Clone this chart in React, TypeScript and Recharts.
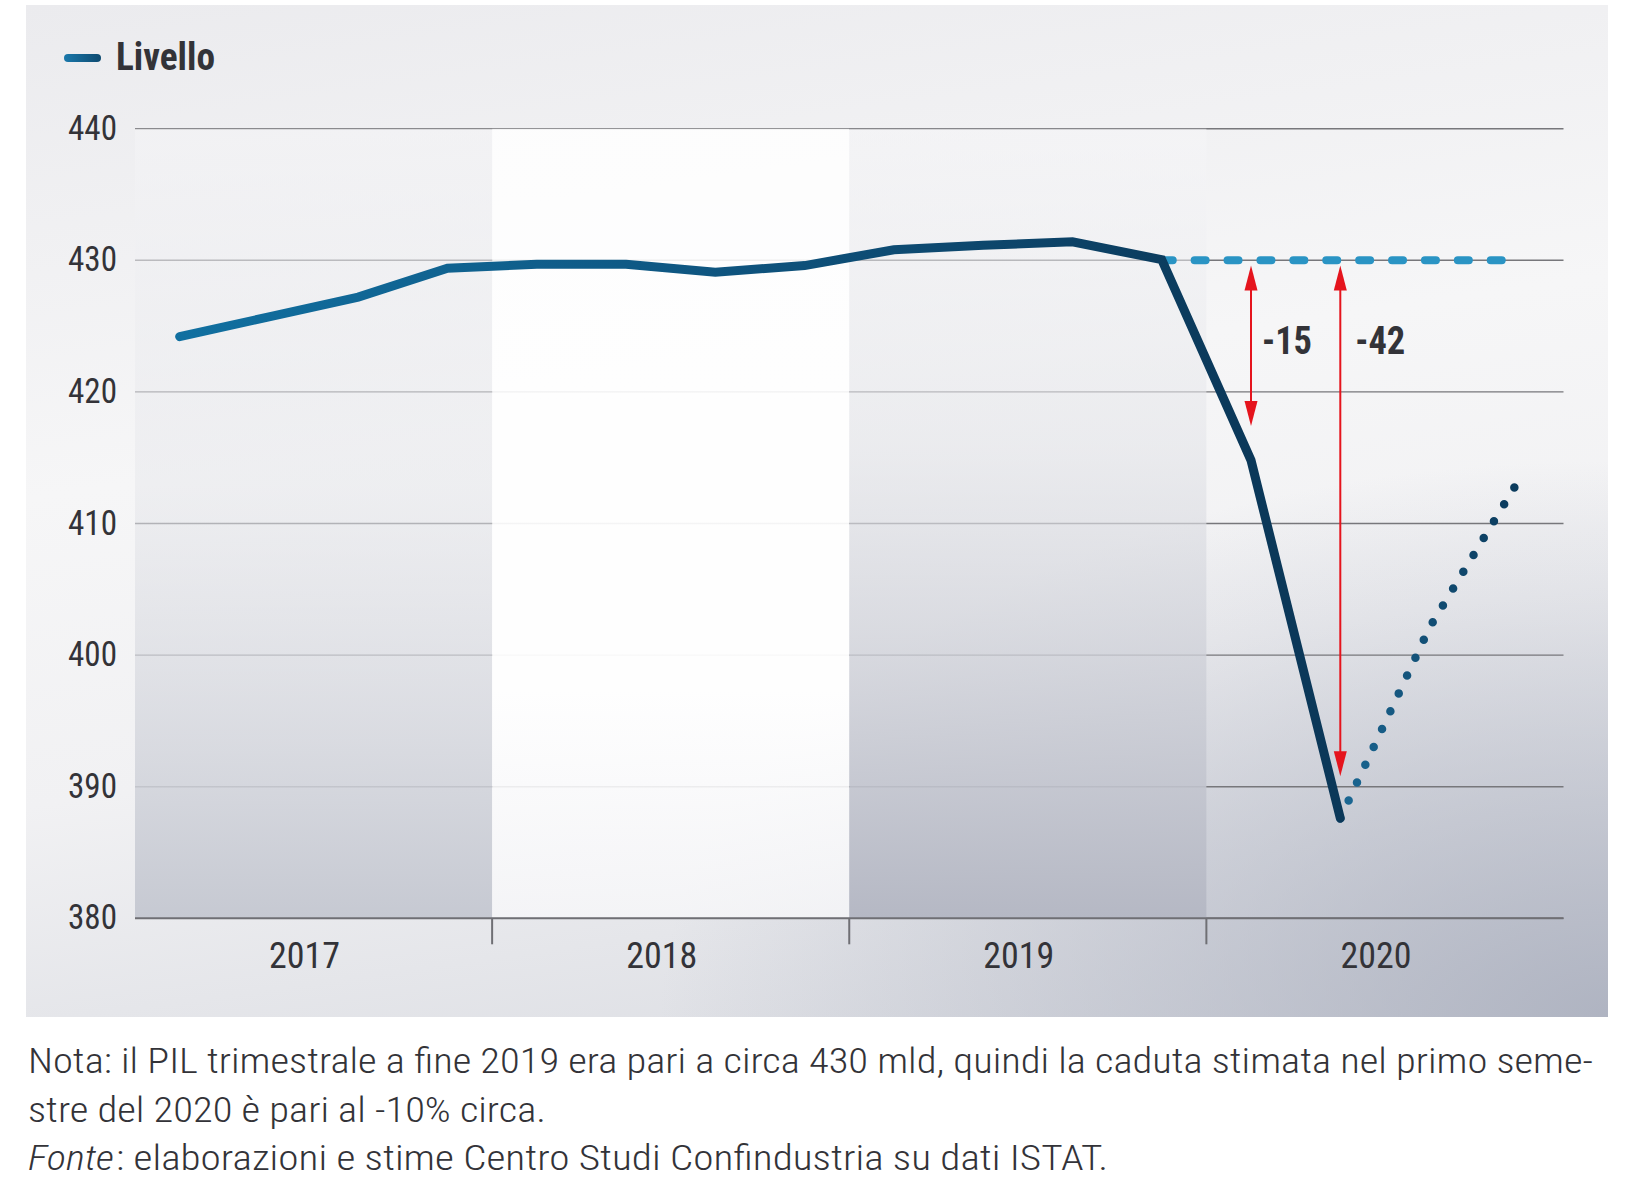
import React from "react";
import {
  LineChart,
  Line,
  XAxis,
  YAxis,
  CartesianGrid,
  ReferenceArea,
  ReferenceLine,
} from "recharts";

const quarters = [
  "I 2017", "II 2017", "III 2017", "IV 2017",
  "I 2018", "II 2018", "III 2018", "IV 2018",
  "I 2019", "II 2019", "III 2019", "IV 2019",
  "I 2020", "II 2020", "III 2020", "IV 2020",
];
const years = ["2017", "2018", "2019", "2020"];
const livello = [
  424.2, 425.7, 427.2, 429.4,
  429.7, 429.7, 429.1, 429.6,
  430.8, 431.15, 431.4, 430.05,
  414.8, 387.6, null, null,
];
const livelloFine2019 = [
  null, null, null, null, null, null, null, null, null, null, null,
  430, 430, 430, 430, 430,
];
const stima = [
  null, null, null, null, null, null, null, null, null, null, null, null, null,
  387.6, 402.1, 413.3,
];
const yTicks = [380, 390, 400, 410, 420, 430, 440];
// red arrows: quarter index, from / to values, label
const gapQuarter = [12, 13];
const gapFrom = [429.6, 429.6];
const gapTo = [417.4, 390.8];
const gapLabels = ["-15", "-42"];

const data = quarters.map((q, i) => ({
  x: i + 0.5,
  q,
  livello: livello[i],
  base: livelloFine2019[i],
  stima: stima[i],
}));

const COND = "'Roboto Condensed', 'Liberation Sans Narrow', 'DejaVu Sans Condensed', Roboto, sans-serif";
const RED = "#e5141d";
const TXT = "#333338";

const YTick = (p: any) => (
  <text
    x={p.x - 18}
    y={p.y + 11}
    textAnchor="end"
    fontFamily={COND}
    fontSize={35}
    fill={TXT}
    textLength={49}
    lengthAdjust="spacingAndGlyphs"
  >
    {p.payload.value}
  </text>
);

const XTick = (p: any) => {
  const v = p.payload.value;
  if (v % 4 === 0) {
    return <line x1={p.x} x2={p.x} y1={p.y} y2={p.y + 26} stroke="#6f6f74" strokeWidth={2} />;
  }
  return (
    <text
      x={p.x - 9}
      y={p.y + 50}
      textAnchor="middle"
      fontFamily={COND}
      fontWeight={400}
      fontSize={37}
      fill={TXT}
      textLength={71}
      lengthAdjust="spacingAndGlyphs"
    >
      {years[(v - 2) / 4]}
    </text>
  );
};

const makeArrow = (label: string, dx: number) => (p: any) => {
  const { x1, y1, y2 } = p;
  const top = Math.min(y1, y2);
  const bot = Math.max(y1, y2);
  const head = 25;
  const half = 6.5;
  return (
    <g>
      <line x1={x1} x2={x1} y1={top + head - 2} y2={bot - head + 2} stroke={RED} strokeWidth={2} />
      <polygon points={`${x1},${top} ${x1 - half},${top + head} ${x1 + half},${top + head}`} fill={RED} />
      <polygon points={`${x1},${bot} ${x1 - half},${bot - head} ${x1 + half},${bot - head}`} fill={RED} />
      <text
        x={x1 + dx}
        y={top + 88}
        fontFamily={COND}
        fontWeight={700}
        fontSize={38}
        fill={TXT}
        textLength={50}
        lengthAdjust="spacingAndGlyphs"
      >
        {label}
      </text>
    </g>
  );
};
const labelDx = [11, 15];

export default function App() {
  return (
    <div style={{ position: "absolute", left: 0, top: 0, width: 1627, height: 1195, background: "#fff", overflow: "hidden" }}>
      <div
        style={{
          position: "absolute",
          left: 26,
          top: 5,
          width: 1582,
          height: 1012,
          background:
            "radial-gradient(ellipse 60% 55% at 100% 100%, rgba(168,173,188,0.85) 0%, rgba(168,173,188,0) 100%), linear-gradient(172deg, #ebebee 0%, #f6f6f7 40%, #f1f1f3 65%, #d9dbe1 100%)",
        }}
      />
      <div style={{ position: "absolute", left: 0, top: 0 }}>
        <LineChart
          width={1627}
          height={1000}
          data={data}
          margin={{ top: 128.7, right: 63.5, left: 0, bottom: 21.7 }}
        >
          <defs>
            <linearGradient id="gLiv" gradientUnits="userSpaceOnUse" x1="135" y1="0" x2="1250" y2="0">
              <stop offset="0%" stopColor="#1172a3" />
              <stop offset="45%" stopColor="#0f5985" />
              <stop offset="100%" stopColor="#0b3859" />
            </linearGradient>
            <linearGradient id="gStima" x1="0" y1="1" x2="0" y2="0">
              <stop offset="0%" stopColor="#1b6894" />
              <stop offset="100%" stopColor="#0b3a5c" />
            </linearGradient>
            <linearGradient id="bandDark1" x1="0" y1="0" x2="0" y2="1">
              <stop offset="0%" stopColor="#f4f4f6" stopOpacity={0.6} />
              <stop offset="45%" stopColor="#e6e7eb" stopOpacity={0.5} />
              <stop offset="100%" stopColor="#c6c9d2" stopOpacity={1} />
            </linearGradient>
            <linearGradient id="bandDark2" x1="0" y1="0" x2="0" y2="1">
              <stop offset="0%" stopColor="#f6f6f8" stopOpacity={0.5} />
              <stop offset="40%" stopColor="#e4e5e9" stopOpacity={0.6} />
              <stop offset="100%" stopColor="#b5b8c4" stopOpacity={1} />
            </linearGradient>
            <linearGradient id="bandLight" x1="0" y1="0" x2="0" y2="1">
              <stop offset="0%" stopColor="#ffffff" stopOpacity={0.85} />
              <stop offset="70%" stopColor="#ffffff" stopOpacity={0.95} />
              <stop offset="100%" stopColor="#f7f7f9" stopOpacity={0.8} />
            </linearGradient>
          </defs>
          <ReferenceArea x1={0} x2={4} y1={380} y2={440} fill="url(#bandDark1)" fillOpacity={1} stroke="none" />
          <ReferenceArea x1={4} x2={8} y1={380} y2={440} fill="url(#bandLight)" fillOpacity={1} stroke="none" />
          <ReferenceArea x1={8} x2={12} y1={380} y2={440} fill="url(#bandDark2)" fillOpacity={1} stroke="none" />
          <CartesianGrid vertical={false} stroke="#77777b" strokeWidth={1.4} />
          <XAxis
            dataKey="x"
            type="number"
            domain={[0, 16]}
            ticks={[2, 4, 6, 8, 10, 12, 14]}
            interval={0}
            height={60}
            axisLine={{ stroke: "#6f6f74", strokeWidth: 2 }}
            tickLine={false}
            tickSize={0}
            tickMargin={0}
            tick={XTick}
          />
          <YAxis
            type="number"
            domain={[380, 440]}
            ticks={yTicks}
            interval={0}
            width={135}
            axisLine={false}
            tickLine={false}
            tickSize={0}
            tickMargin={0}
            tick={YTick}
          />
          <Line
            dataKey="base"
            stroke="#2a94c4"
            strokeWidth={8}
            strokeDasharray="11 21.9"
            strokeLinecap="round"
            dot={false}
            activeDot={false}
            isAnimationActive={false}
          />
          <Line
            dataKey="stima"
            stroke="url(#gStima)"
            strokeWidth={8.5}
            strokeDasharray="0 19.7"
            strokeLinecap="round"
            dot={false}
            activeDot={false}
            isAnimationActive={false}
          />
          <Line
            dataKey="livello"
            stroke="url(#gLiv)"
            strokeWidth={9}
            strokeLinecap="round"
            dot={false}
            activeDot={false}
            isAnimationActive={false}
          />
          {gapQuarter.map((qi, k) => (
            <ReferenceLine
              key={k}
              segment={[
                { x: qi + 0.5, y: gapFrom[k] },
                { x: qi + 0.5, y: gapTo[k] },
              ]}
              shape={makeArrow(gapLabels[k], labelDx[k])}
            />
          ))}
        </LineChart>
      </div>
      <svg width={1627} height={1195} style={{ position: "absolute", left: 0, top: 0, pointerEvents: "none" }}>
        <defs>
          <linearGradient id="gLeg" x1="0" y1="0" x2="1" y2="0">
            <stop offset="0%" stopColor="#1a78ab" />
            <stop offset="100%" stopColor="#0e4a70" />
          </linearGradient>
        </defs>
        <rect x={64} y={54} width={37} height={8} rx={4} fill="url(#gLeg)" />
        <text x={116} y={70} fontFamily={COND} fontWeight={700} fontSize={38} fill={TXT} textLength={99} lengthAdjust="spacingAndGlyphs">
          Livello
        </text>
        <g fontFamily={COND} fontWeight={300} fontSize={35} fill={TXT}>
          <text x={28} y={1073} textLength={1565} lengthAdjust="spacingAndGlyphs">
            Nota: il PIL trimestrale a fine 2019 era pari a circa 430 mld, quindi la caduta stimata nel primo seme-
          </text>
          <text x={28} y={1122} textLength={518} lengthAdjust="spacingAndGlyphs">
            stre del 2020 è pari al -10% circa.
          </text>
          <text x={28} y={1170} fontStyle="italic" textLength={86} lengthAdjust="spacingAndGlyphs">
            Fonte
          </text>
          <text x={116} y={1170} textLength={992} lengthAdjust="spacingAndGlyphs">
            : elaborazioni e stime Centro Studi Confindustria su dati ISTAT.
          </text>
        </g>
      </svg>
    </div>
  );
}
